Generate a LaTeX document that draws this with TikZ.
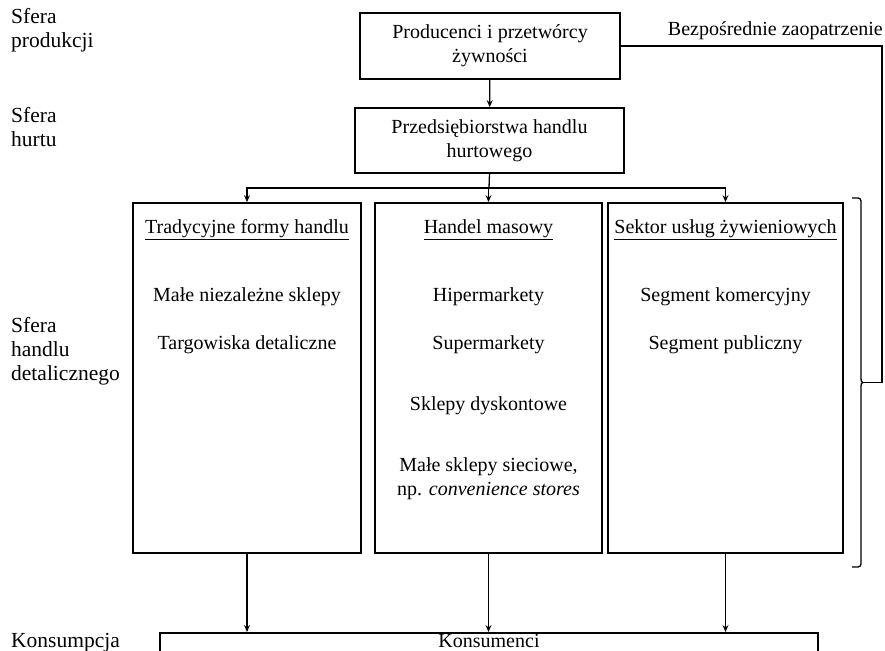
\documentclass[tikz,border=0pt]{standalone}
\usepackage{fontspec}
\setmainfont{Liberation Serif}
\usetikzlibrary{arrows.meta, positioning, calc}

\begin{document}
\begin{tikzpicture}[x=1pt, y=1pt,
    font=\fontsize{20}{24}\selectfont,
    box/.style={draw=black, line width=1.8pt, inner sep=0pt, align=center},
    link/.style={line width=1.3pt},
    flow/.style={link, -{Stealth[length=7pt, width=6pt, inset=2.5pt]}},
    sphere/.style={anchor=north west, align=left, inner sep=0pt, font=\fontsize{21.5}{24}\selectfont},
    item/.style={anchor=base, inner sep=0pt, align=center}]
    \clip (0,0) rectangle (885,650);

    % Production and wholesale
    \node[box, minimum width=260pt, minimum height=66pt] (prod) at (490,604) {Producenci i przetwórcy\\żywności};
    \node[box, minimum width=269pt, minimum height=65pt] (whole) at (489.5,509.5) {Przedsiębiorstwa handlu\\hurtowego};

    % Retail channels
    \node[box, minimum width=228pt, minimum height=350pt] (trad) at (247,272) {};
    \node[box, minimum width=227pt, minimum height=350pt] (mass) at (488.5,272) {};
    \node[box, minimum width=235pt, minimum height=350pt] (serv) at (725.5,272) {};

    % Consumers (bottom edge falls outside the page)
    \node[box, minimum width=658pt, minimum height=40pt, anchor=north] (cons) at (489,18) {};
    \node[item] (cons-t) at (489,3) {Konsumenci};

    % Texts in the channel boxes
    \node[item] (trad-h) at ($(trad.north)+(0,-31)$) {\underline{Tradycyjne formy handlu}};
    \node[item] (trad-1) at ($(trad.north)+(0,-99)$) {Małe niezależne sklepy};
    \node[item] (trad-2) at ($(trad.north)+(0,-147)$) {Targowiska detaliczne};

    \node[item] (mass-h) at ($(mass.north)+(0,-31)$) {\underline{Handel masowy}};
    \node[item] (mass-1) at ($(mass.north)+(0,-99)$) {Hipermarkety};
    \node[item] (mass-2) at ($(mass.north)+(0,-147)$) {Supermarkety};
    \node[item] (mass-3) at ($(mass.north)+(0,-208)$) {Sklepy dyskontowe};
    \node[item, anchor=north] (mass-4) at ($(mass.north)+(0,-255)$) {Małe sklepy sieciowe,\\np. \textit{convenience stores}};

    \node[item] (serv-h) at ($(serv.north)+(0,-31)$) {\underline{Sektor usług żywieniowych}};
    \node[item] (serv-1) at ($(serv.north)+(0,-99)$) {Segment komercyjny};
    \node[item] (serv-2) at ($(serv.north)+(0,-147)$) {Segment publiczny};

    % Sphere labels on the left
    \node[sphere] (s-prod) at (11,642) {Sfera\\produkcji};
    \node[sphere] (s-hurt) at (11,543) {Sfera\\hurtu};
    \node[sphere] (s-det) at (11,333) {Sfera\\handlu\\detalicznego};
    \node[sphere, anchor=base west] (s-kons) at (11,3) {Konsumpcja};

    % Flows
    \draw[flow] (prod) -- (whole);
    \coordinate (split) at ($(whole.south)!0.5!(mass.north)$);
    \draw[link] (whole.south) -- (split);
    \foreach \b in {trad, mass, serv} {
        \draw[flow] (split) -| (\b.north);
        \draw[flow] (\b.south) -- (\b.south |- cons.north);
    }

    % Direct supply to the retail sphere
    \coordinate (tip) at (863,267.5);
    \coordinate (rise) at (882,267.5);
    \draw[link] (852,452) -- (858,452) to[out=0,in=90] (861,449) -- (861,271)
        to[out=-90,in=180] (tip) to[out=180,in=90] (861,264) -- (861,86)
        to[out=-90,in=0] (858,83) -- (852,83);
    \draw[link] (prod.east) -| (rise) -- (tip);
    \node[anchor=base east, inner sep=0pt] (direct) at (883,614) {Bezpośrednie zaopatrzenie};
\end{tikzpicture}
\end{document}
